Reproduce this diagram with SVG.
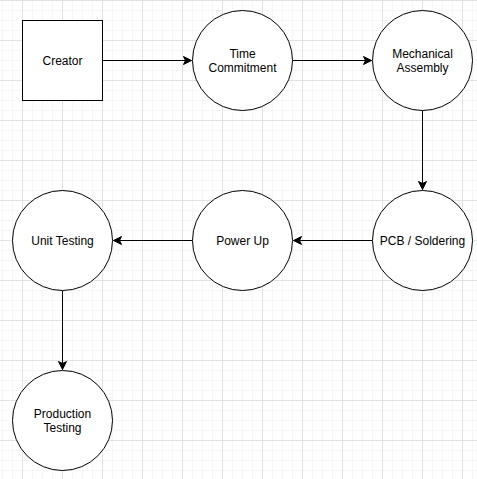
<svg xmlns="http://www.w3.org/2000/svg" width="477" height="479" viewBox="0 0 477 479">
<defs>
<pattern id="grid" patternUnits="userSpaceOnUse" x="22" y="0" width="40" height="40">
<path d="M10.5,0V40M20.5,0V40M30.5,0V40M0,10.5H40M0,20.5H40M0,30.5H40" stroke="#f6f6f6" stroke-width="1" fill="none"/>
<path d="M0.5,0V40M0,0.5H40" stroke="#e2e2e2" stroke-width="1" fill="none"/>
</pattern>
<marker id="arr" markerUnits="userSpaceOnUse" markerWidth="12" markerHeight="12" viewBox="-10 -6 12 12" refX="0" refY="0" orient="auto">
<path d="M0,0 L-8,-4 L-6,0 L-8,4 Z" fill="#000" stroke="#000" stroke-width="1" stroke-linejoin="miter"/>
</marker>
<style>
.n{fill:#fff;stroke:#000;stroke-width:1}
.t{font-family:"Liberation Sans",Arial,sans-serif;font-size:12px;fill:#000;text-anchor:middle}
.e{stroke:#000;stroke-width:1;fill:none;marker-end:url(#arr)}
</style>
</defs>
<rect width="477" height="479" fill="#fff"/>
<rect width="477" height="479" fill="url(#grid)"/>
<g id="connectors">
<path class="e" d="M102.5,60.5H191.5"/>
<path class="e" d="M292.5,60.5H371.5"/>
<path class="e" d="M422.5,110.5V189.5"/>
<path class="e" d="M372.5,240.5H293.5"/>
<path class="e" d="M192.5,240.5H113.5"/>
<path class="e" d="M62.5,290.5V369.5"/>
</g>
<g id="creator"><rect class="n" x="22.5" y="20.5" width="80" height="80"/><text class="t" x="62.5" y="64.5">Creator</text></g>
<g id="time-commitment"><circle class="n" cx="242.5" cy="60.5" r="50"/><text class="t" x="242.5" y="57.5">Time</text><text class="t" x="242.5" y="71.5">Commitment</text></g>
<g id="mechanical-assembly"><circle class="n" cx="422.5" cy="60.5" r="50"/><text class="t" x="422.5" y="57.5">Mechanical</text><text class="t" x="422.5" y="71.5">Assembly</text></g>
<g id="pcb-soldering"><circle class="n" cx="422.5" cy="240.5" r="50"/><text class="t" x="422.5" y="244.5">PCB / Soldering</text></g>
<g id="power-up"><circle class="n" cx="242.5" cy="240.5" r="50"/><text class="t" x="242.5" y="244.5">Power Up</text></g>
<g id="unit-testing"><circle class="n" cx="62.5" cy="240.5" r="50"/><text class="t" x="62.5" y="244.5">Unit Testing</text></g>
<g id="production-testing"><circle class="n" cx="62.5" cy="420.5" r="50"/><text class="t" x="62.5" y="417.5">Production</text><text class="t" x="62.5" y="431.5">Testing</text></g>
</svg>
